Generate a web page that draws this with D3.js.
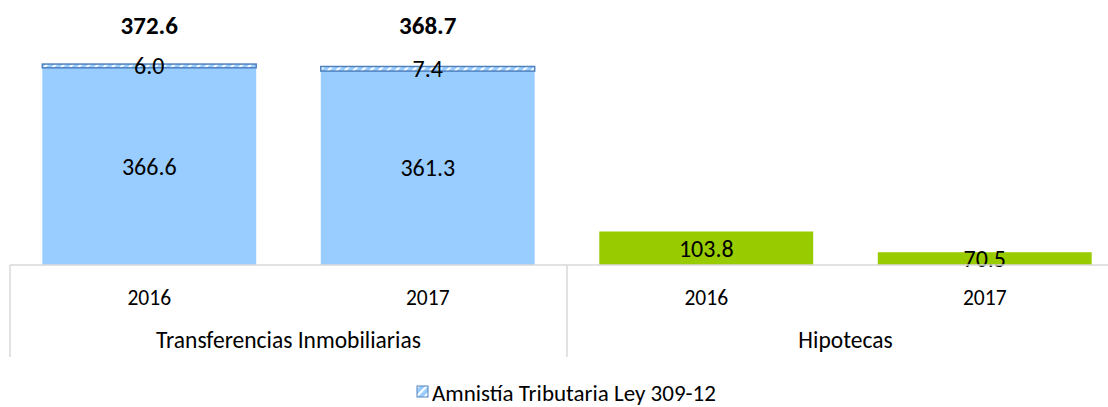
<!DOCTYPE html>
<html>
<head>
<meta charset="utf-8">
<script src="https://cdn.jsdelivr.net/npm/d3@7"></script>
<style>
  body { margin: 0; background: #fff; }
  text { font-family: Carlito, Lato, sans-serif; fill: #000; }
</style>
</head>
<body>
<script>
var w = 1108;
var h = 407;

// data
var groups = ["Transferencias Inmobiliarias", "Hipotecas"];
var years = ["2016", "2017"];
var baseValues = [[366.6, 361.3], [103.8, 70.5]];
var amnistiaValues = [[6.0, 7.4], [null, null]];
var totals = [[372.6, 368.7], [null, null]];
var legendLabel = "Amnistía Tributaria Ley 309-12";

var baseColors = ["#99CCFF", "#99CC00"];

var svg = d3.select("body").append("svg").attr("width", w).attr("height", h);

// hatch pattern for the amnesty segment
var defs = svg.append("defs");
var pat = defs.append("pattern")
    .attr("id", "hatch")
    .attr("patternUnits", "userSpaceOnUse")
    .attr("width", 6).attr("height", 6)
    .attr("patternTransform", "rotate(-45)");
pat.append("rect").attr("width", 6).attr("height", 6).attr("fill", "#99CCFF");
pat.append("rect").attr("width", 6).attr("height", 2.2).attr("fill", "#ffffff");

var baseline = 265;

// outer scale: groups, inner scale: years
var x0 = d3.scaleBand()
    .domain(groups)
    .range([10, 1124]);

var x1 = d3.scaleBand()
    .domain(years)
    .range([0, x0.bandwidth()])
    .paddingInner(0.232)
    .paddingOuter(0.116);

var y = d3.scaleLinear()
    .domain([50, 400])
    .range([baseline, 47]);

// flatten rows
var rows = [];
groups.forEach(function(g, gi) {
  years.forEach(function(yr, yi) {
    rows.push({
      group: g, year: yr, gi: gi,
      base: baseValues[gi][yi],
      extra: amnistiaValues[gi][yi],
      total: totals[gi][yi]
    });
  });
});

var bars = svg.append("g").attr("class", "bars");

var cell = bars.selectAll(".cell")
  .data(rows)
  .enter().append("g")
  .attr("class", "cell")
  .attr("transform", function(d) { return "translate(" + (x0(d.group) + x1(d.year)) + ",0)"; });

cell.append("rect")
  .attr("x", 0)
  .attr("width", x1.bandwidth())
  .attr("y", function(d) { return y(d.base); })
  .attr("height", function(d) { return baseline - y(d.base); })
  .attr("fill", function(d) { return baseColors[d.gi]; });

// amnesty segment stacked on top
var extra = cell.filter(function(d) { return d.extra != null; });

extra.append("rect")
  .attr("x", 0)
  .attr("width", x1.bandwidth())
  .attr("y", function(d) { return y(d.base + d.extra); })
  .attr("height", function(d) { return y(d.base) - y(d.base + d.extra); })
  .attr("fill", "url(#hatch)")
  .attr("stroke", "#4F81BD")
  .attr("stroke-width", 1.5);

// value labels
cell.append("text")
  .attr("x", x1.bandwidth() / 2)
  .attr("y", function(d) { return (y(d.base) + baseline) / 2; })
  .attr("dy", "0.35em")
  .attr("text-anchor", "middle")
  .style("font-size", "24px")
  .text(function(d) { return d.base.toFixed(1); });

extra.append("text")
  .attr("x", x1.bandwidth() / 2)
  .attr("y", function(d) { return (y(d.base) + y(d.base + d.extra)) / 2; })
  .attr("dy", "0.35em")
  .attr("text-anchor", "middle")
  .style("font-size", "24px")
  .text(function(d) { return d.extra.toFixed(1); });

extra.append("text")
  .attr("x", x1.bandwidth() / 2)
  .attr("y", 34)
  .attr("text-anchor", "middle")
  .style("font-size", "25px")
  .style("font-weight", "bold")
  .text(function(d) { return d.total.toFixed(1); });

// axis lines
var axis = svg.append("g").attr("class", "axis");

axis.append("line")
  .attr("x1", x0.range()[0]).attr("x2", x0.range()[1])
  .attr("y1", baseline).attr("y2", baseline)
  .attr("stroke", "#D9D9D9").attr("stroke-width", 1.5);

axis.selectAll(".sep")
  .data(groups)
  .enter().append("line")
  .attr("class", "sep")
  .attr("x1", function(d) { return x0(d); })
  .attr("x2", function(d) { return x0(d); })
  .attr("y1", baseline).attr("y2", 357)
  .attr("stroke", "#D9D9D9").attr("stroke-width", 1.5);

// year labels
axis.selectAll(".year")
  .data(rows)
  .enter().append("text")
  .attr("class", "year")
  .attr("x", function(d) { return x0(d.group) + x1(d.year) + x1.bandwidth() / 2; })
  .attr("y", 305)
  .attr("text-anchor", "middle")
  .style("font-size", "21.5px")
  .text(function(d) { return d.year; });

// group labels
axis.selectAll(".grp")
  .data(groups)
  .enter().append("text")
  .attr("class", "grp")
  .attr("x", function(d) { return x0(d) + x0.bandwidth() / 2; })
  .attr("y", 348)
  .attr("text-anchor", "middle")
  .style("font-size", "23.5px")
  .text(function(d) { return d; });

// legend
var legend = svg.append("g").attr("transform", "translate(417,386)");
legend.append("rect")
  .attr("width", 11).attr("height", 11)
  .attr("fill", "url(#hatch)")
  .attr("stroke", "#4F81BD").attr("stroke-width", 1);
legend.append("text")
  .attr("x", 15)
  .attr("y", 15)
  .style("font-size", "23px")
  .text(legendLabel);
</script>
</body>
</html>
